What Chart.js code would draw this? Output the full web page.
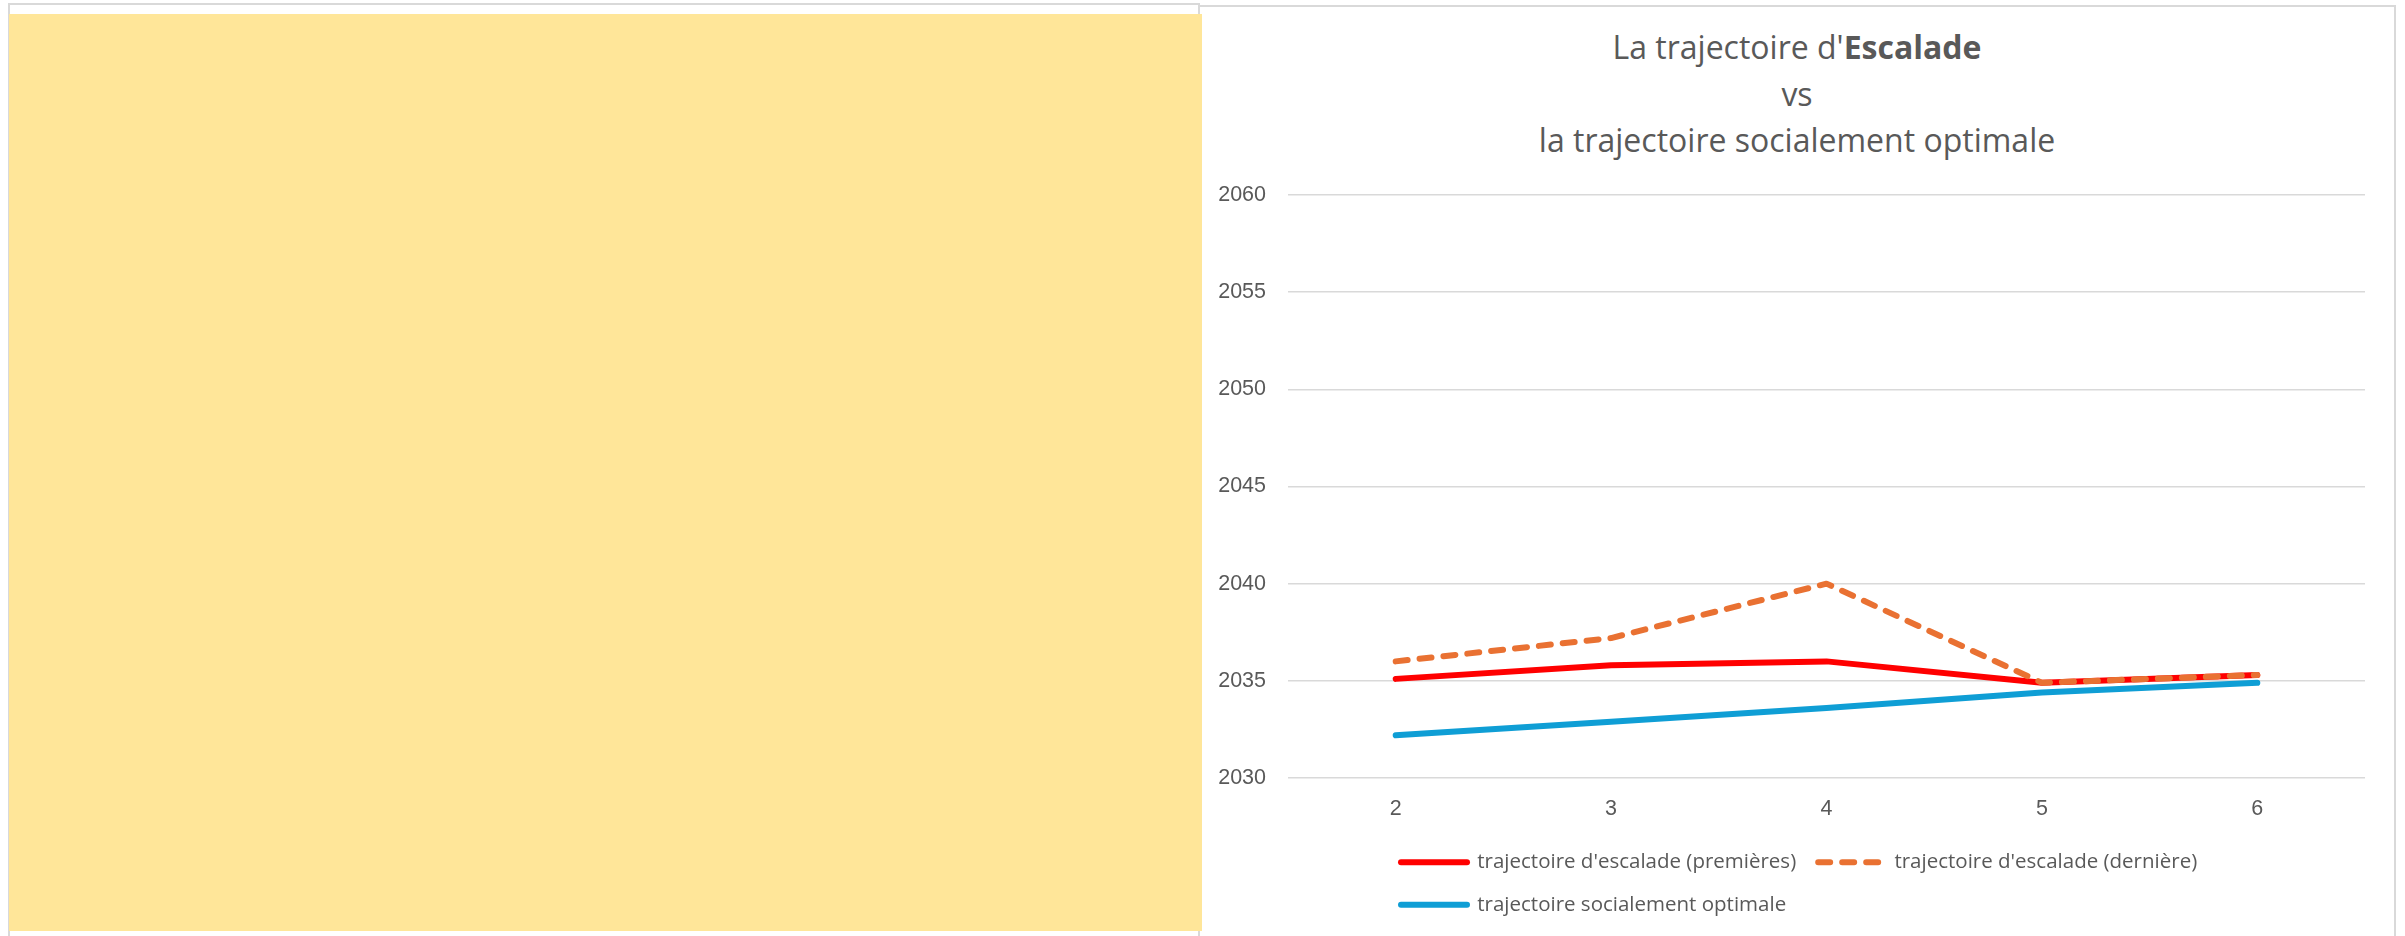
<!DOCTYPE html>
<html>
<head>
<meta charset="utf-8">
<script src="https://cdn.jsdelivr.net/npm/chart.js"></script>
<style>
  html, body { margin: 0; padding: 0; background: #fff; width: 2405px; height: 936px; overflow: hidden; }
  #leftPanel { position: absolute; left: 8px; top: 3px; width: 1192px; height: 960px; border: 2px solid #d9d9d9; box-sizing: border-box; }
  #fill { position: absolute; left: 9px; top: 14px; width: 1193px; height: 917px; background: #ffe699; z-index: 3; }
  #rightPanel { position: absolute; left: 1198px; top: 5px; width: 1198px; height: 960px; border: 2px solid #d9d9d9; box-sizing: border-box; background: #fff; }
  #title { position: absolute; left: 1199px; width: 1196px; top: 24px; text-align: center; font-family: "Open Sans", sans-serif; font-size: 32px; line-height: 46.5px; color: #595959; z-index: 2; }
  #title b { font-weight: 700; }
  #wrap { position: absolute; left: 1203px; top: 160px; width: 1190px; height: 795px; z-index: 2; }
</style>
</head>
<body>
<div id="leftPanel"></div>
<div id="rightPanel"></div>
<div id="fill"></div>
<div id="title">La trajectoire d'<b>Escalade</b><br>vs<br>la trajectoire socialement optimale</div>
<div id="wrap"><canvas id="chart"></canvas></div>

<script>
// Data
const categories = ["2", "3", "4", "5", "6"];
const premieres = [2035.1, 2035.8, 2036.0, 2034.9, 2035.3];
const derniere = [2036.0, 2037.2, 2040.0, 2034.9, 2035.3];
const optimale = [2032.2, 2032.9, 2033.6, 2034.4, 2034.9];
const seriesNames = [
  "trajectoire d'escalade (premières)",
  "trajectoire d'escalade (dernière)",
  "trajectoire socialement optimale"
];
const yMin = 2030, yMax = 2060, yStep = 5;

const textColor = "#595959";

// push legend rows to start under the first category, like the original
const legendPlace = {
  id: "legendPlace",
  afterLayout(chart) {
    const lg = chart.legend;
    const pad = lg.options.labels.padding;
    lg.left = 198 - pad;
    lg.right = chart.width;
    lg.top -= 5;
    lg.bottom -= 5;
  }
};

const ctx = document.getElementById("chart").getContext("2d");

new Chart(ctx, {
  type: "line",
  data: {
    labels: categories,
    datasets: [
      {
        label: seriesNames[0],
        data: premieres,
        borderColor: "#ff0000",
        backgroundColor: "#ff0000",
        borderWidth: 6,
        borderCapStyle: "round",
        borderJoinStyle: "round",
        order: 3
      },
      {
        label: seriesNames[1],
        data: derniere,
        borderColor: "#e97132",
        backgroundColor: "#e97132",
        borderWidth: 6,
        borderDash: [12, 12],
        borderCapStyle: "round",
        borderJoinStyle: "round",
        order: 2
      },
      {
        label: seriesNames[2],
        data: optimale,
        borderColor: "#0f9ed5",
        backgroundColor: "#0f9ed5",
        borderWidth: 6,
        borderCapStyle: "round",
        borderJoinStyle: "round",
        order: 1
      }
    ]
  },
  options: {
    responsive: true,
    maintainAspectRatio: false,
    animation: false,
    elements: { point: { radius: 0, hoverRadius: 0 }, line: { tension: 0 } },
    layout: { padding: { top: 26, right: 28, bottom: 25, left: 0 } },
    scales: {
      x: {
        offset: true,
        grid: { display: false, drawTicks: false },
        border: { display: false },
        ticks: { color: textColor, padding: 18, font: { family: "Liberation Sans", size: 21.5 } },
        afterFit: (scale) => { scale.height = 57; }
      },
      y: {
        min: yMin,
        max: yMax,
        grid: { color: "#d9d9d9", lineWidth: 1.5, drawTicks: false },
        border: { display: false },
        ticks: {
          stepSize: yStep,
          color: textColor,
          padding: 22,
          font: { family: "Liberation Sans", size: 21.5 },
          callback: (v) => String(v)
        },
        afterFit: (scale) => { scale.width = 85; }
      }
    },
    plugins: {
      title: { display: false },
      tooltip: { enabled: false },
      legend: {
        position: "bottom",
        align: "start",
        fullSize: false,
        labels: {
          usePointStyle: true,
          pointStyle: "line",
          pointStyleWidth: 66,
          padding: 22,
          color: textColor,
          font: { family: "Open Sans", size: 20.5 },
          sort: (a, b) => a.datasetIndex - b.datasetIndex,
          generateLabels: (chart) => {
            const items = Chart.defaults.plugins.legend.labels.generateLabels(chart);
            items.forEach(it => {
              const ds = chart.data.datasets[it.datasetIndex];
              it.lineDash = ds.borderDash || [];
              it.lineCap = "round";
              it.lineWidth = ds.borderWidth;
              it.strokeStyle = ds.borderColor;
            });
            return items;
          }
        }
      }
    }
  },
  plugins: [legendPlace]
});
</script>
</body>
</html>
